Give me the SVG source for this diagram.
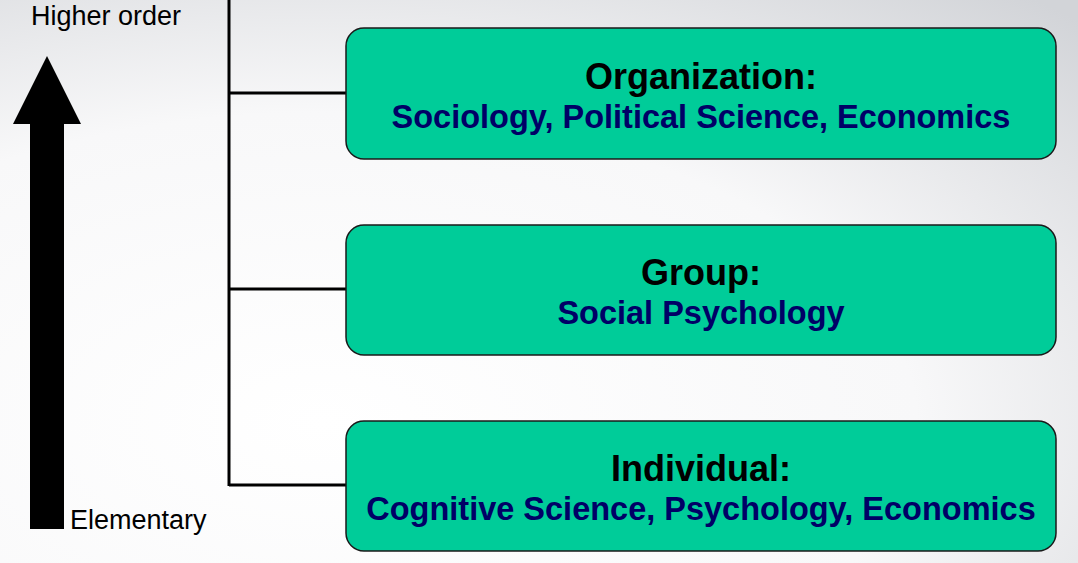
<svg xmlns="http://www.w3.org/2000/svg" width="1078" height="563" viewBox="0 0 1078 563">
  <defs>
    <radialGradient id="bg" cx="0.3" cy="0.75" r="1.0" gradientUnits="objectBoundingBox">
      <stop offset="0" stop-color="#ffffff"/>
      <stop offset="0.55" stop-color="#f8f8f9"/>
      <stop offset="1" stop-color="#d2d4d8"/>
    </radialGradient>
    <style>
      .box { fill: #00cc99; stroke: #1a1a1a; stroke-width: 1.5; }
      .title { font-family: "Liberation Sans", Arial, sans-serif; font-weight: bold; font-size: 36px; fill: #000000; text-anchor: middle; }
      .sub { font-family: "Liberation Sans", Arial, sans-serif; font-weight: bold; font-size: 32.5px; fill: #000066; text-anchor: middle; }
      .lbl { font-family: "Liberation Sans", Arial, sans-serif; font-size: 27px; fill: #000000; }
      .conn { stroke: #000000; stroke-width: 3; fill: none; }
    </style>
  </defs>

  <rect x="0" y="0" width="1078" height="563" fill="url(#bg)"/>

  <!-- scale arrow -->
  <g id="scale">
    <polygon points="47,56 81,124 64,124 64,529 30,529 30,124 13,124" fill="#000000"/>
    <text class="lbl" x="31" y="25">Higher order</text>
    <text class="lbl" x="70" y="529">Elementary</text>
  </g>

  <!-- connectors -->
  <g id="connectors">
    <path class="conn" d="M229,0 V486"/>
    <path class="conn" d="M229,93 H346"/>
    <path class="conn" d="M229,289 H346"/>
    <path class="conn" d="M229,485 H346"/>
  </g>

  <g id="organization">
    <rect class="box" x="346" y="28" width="710" height="131" rx="18"/>
    <text class="title" x="701" y="89">Organization:</text>
    <text class="sub" x="701" y="128">Sociology, Political Science, Economics</text>
  </g>

  <g id="group">
    <rect class="box" x="346" y="225" width="710" height="130" rx="18"/>
    <text class="title" x="701" y="285">Group:</text>
    <text class="sub" x="701" y="324">Social Psychology</text>
  </g>

  <g id="individual">
    <rect class="box" x="346" y="421" width="710" height="130" rx="18"/>
    <text class="title" x="701" y="481">Individual:</text>
    <text class="sub" x="701" y="520">Cognitive Science, Psychology, Economics</text>
  </g>
</svg>
